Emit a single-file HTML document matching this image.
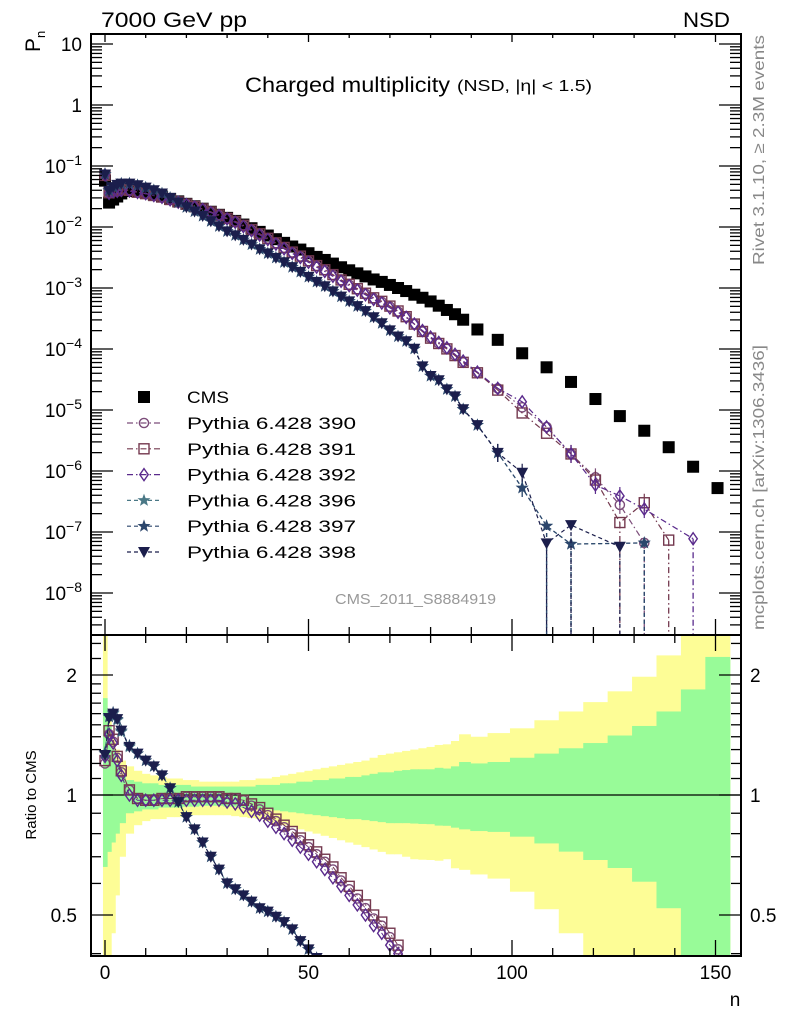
<!DOCTYPE html>
<html><head><meta charset="utf-8">
<style>
html,body{margin:0;padding:0;background:#fff;overflow:hidden;width:786px;height:1024px;}
svg{display:block;font-family:"Liberation Sans",Arial,sans-serif;}
</style></head>
<body>
<svg id="chart" width="786" height="1024" viewBox="0 0 786 1024" xmlns="http://www.w3.org/2000/svg">
<defs>
<clipPath id="clipMain"><rect x="91" y="34" width="650" height="601"/></clipPath>
<clipPath id="clipRatio"><rect x="91" y="635" width="650" height="321"/></clipPath>
</defs>
<g id="bands" clip-path="url(#clipRatio)"></g>
<g id="ratioMarks" clip-path="url(#clipRatio)"></g>
<g id="mainMarks" clip-path="url(#clipMain)"></g>
<g id="axes"></g>
<g id="legend"></g>
<text x="101" y="27" font-size="21" textLength="146" lengthAdjust="spacingAndGlyphs" fill="#000">7000 GeV pp</text>
<text x="683" y="27" font-size="21" textLength="47" lengthAdjust="spacingAndGlyphs" fill="#000">NSD</text>
<text x="245" y="92" font-size="21" textLength="205" lengthAdjust="spacingAndGlyphs" fill="#000">Charged multiplicity</text>
<text x="457" y="91" font-size="16" textLength="135" lengthAdjust="spacingAndGlyphs" fill="#000">(NSD, |η| &lt; 1.5)</text>
<text transform="translate(40,52) rotate(-90)" font-size="21" fill="#000">P<tspan font-size="13" dy="5">n</tspan></text>
<text transform="translate(36,795) rotate(-90)" font-size="15" text-anchor="middle" fill="#000">Ratio to CMS</text>
<text x="735" y="1006" font-size="19" text-anchor="middle" fill="#000">n</text>
<text transform="translate(764,265) rotate(-90)" font-size="16" textLength="230" lengthAdjust="spacingAndGlyphs" fill="#888">Rivet 3.1.10, ≥ 2.3M events</text>
<text transform="translate(764,630) rotate(-90)" font-size="16" textLength="285" lengthAdjust="spacingAndGlyphs" fill="#888">mcplots.cern.ch [arXiv:1306.3436]</text>
<text x="335" y="604" font-size="15" fill="#999" textLength="161" lengthAdjust="spacingAndGlyphs">CMS_2011_S8884919</text>
</svg>
<script>
// ---- data ----
const nGrid = [0,1,2,3,4,6,8,10,12,14,16,18,20,22,24,26,28,30,32,34,36,38,40,42,44,46,48,50,52,54,56,58,60,62,64,66,68,70,72,74,76,78,80,82,84,86,88,91.5,96.5,102.5,108.5,114.5,120.5,126.5,132.5,138.5,144.5,150.5];
const cmsLog10P = [-1.24,-1.60,-1.55,-1.50,-1.45,-1.41,-1.42,-1.44,-1.47,-1.50,-1.54,-1.58,-1.62,-1.66,-1.70,-1.75,-1.80,-1.85,-1.90,-1.96,-2.02,-2.08,-2.14,-2.20,-2.26,-2.32,-2.37,-2.43,-2.49,-2.54,-2.60,-2.66,-2.71,-2.76,-2.81,-2.86,-2.90,-2.95,-3.00,-3.05,-3.11,-3.16,-3.22,-3.29,-3.36,-3.43,-3.52,-3.68,-3.85,-4.07,-4.30,-4.54,-4.82,-5.10,-5.34,-5.61,-5.93,-6.28];
const ratio390 = [1.20,1.42,1.36,1.24,1.14,1.03,0.98,0.97,0.97,0.98,0.98,0.98,0.99,0.99,0.99,0.99,0.99,0.98,0.98,0.97,0.94,0.92,0.89,0.86,0.83,0.80,0.77,0.74,0.71,0.68,0.65,0.61,0.58,0.55,0.52,0.49,0.47,0.44,0.41,0.38,0.33,0.28,0.25,0.24,0.23,0.21,0.20,0.195,0.16,0.13,0.105,0.066,0.052,0.035,0.0145,null,null,null];
const ratio391 = [1.22,1.45,1.38,1.25,1.15,1.03,0.98,0.97,0.97,0.98,0.98,0.98,0.99,0.99,0.99,0.99,0.99,0.98,0.98,0.97,0.95,0.93,0.90,0.87,0.84,0.81,0.78,0.75,0.72,0.69,0.66,0.62,0.59,0.56,0.53,0.50,0.48,0.45,0.42,0.38,0.33,0.28,0.25,0.24,0.23,0.21,0.20,0.195,0.15,0.105,0.083,0.066,0.047,0.018,0.066,0.030,null,null];
const ratio392 = [1.25,1.42,1.35,1.22,1.12,1.00,0.97,0.97,0.97,0.97,0.97,0.97,0.97,0.97,0.97,0.97,0.97,0.96,0.95,0.93,0.91,0.89,0.86,0.83,0.80,0.77,0.74,0.71,0.68,0.65,0.62,0.59,0.56,0.53,0.50,0.47,0.45,0.42,0.40,0.37,0.33,0.29,0.26,0.25,0.24,0.22,0.21,0.20,0.16,0.16,0.105,0.066,0.039,0.049,0.052,null,0.066,null];
const ratio396 = [1.28,1.58,1.60,1.54,1.44,1.32,1.27,1.22,1.18,1.12,1.04,0.96,0.88,0.82,0.76,0.70,0.65,0.60,0.58,0.56,0.54,0.52,0.51,0.495,0.48,0.46,0.43,0.41,0.39,0.37,0.35,0.33,0.31,0.29,0.27,0.24,0.21,0.18,0.16,0.15,0.13,0.075,0.06,0.06,0.05,0.045,0.034,0.027,0.014,0.0062,0.0025,0.0022,null,null,0.0145,null,null,null];
const ratio397 = [1.27,1.57,1.61,1.55,1.45,1.33,1.27,1.22,1.18,1.12,1.04,0.96,0.88,0.82,0.76,0.70,0.65,0.60,0.58,0.56,0.54,0.52,0.51,0.495,0.48,0.46,0.43,0.41,0.39,0.37,0.35,0.33,0.31,0.29,0.27,0.24,0.21,0.18,0.16,0.15,0.13,0.075,0.06,0.06,0.05,0.045,0.034,0.027,0.014,0.0062,0.0025,0.0022,null,null,0.0145,null,null,null];
const ratio398 = [1.26,1.56,1.60,1.55,1.45,1.32,1.27,1.22,1.18,1.12,1.04,0.96,0.88,0.82,0.76,0.70,0.65,0.60,0.58,0.56,0.54,0.52,0.51,0.495,0.48,0.46,0.43,0.41,0.39,0.37,0.35,0.33,0.31,0.29,0.27,0.24,0.21,0.18,0.16,0.15,0.13,0.075,0.06,0.06,0.05,0.045,0.034,0.027,0.014,0.011,0.0013,0.0045,null,0.0072,null,null,null,null];
const bandYellowUp = [3.0,1.60,1.40,1.30,1.22,1.18,1.15,1.13,1.12,1.11,1.10,1.10,1.09,1.09,1.08,1.08,1.08,1.08,1.08,1.09,1.09,1.10,1.10,1.11,1.12,1.13,1.14,1.15,1.16,1.17,1.18,1.19,1.20,1.21,1.22,1.24,1.26,1.27,1.28,1.29,1.30,1.31,1.32,1.335,1.34,1.366,1.42,1.40,1.43,1.47,1.54,1.62,1.71,1.82,1.98,2.24,3.0,3.0];
const bandGreenUp = [1.75,1.50,1.30,1.20,1.12,1.09,1.08,1.07,1.07,1.06,1.06,1.06,1.06,1.05,1.05,1.05,1.05,1.05,1.05,1.05,1.05,1.06,1.06,1.06,1.07,1.07,1.08,1.08,1.09,1.09,1.10,1.10,1.11,1.11,1.12,1.13,1.14,1.14,1.15,1.155,1.16,1.16,1.16,1.17,1.165,1.18,1.21,1.20,1.21,1.24,1.27,1.31,1.35,1.41,1.49,1.62,1.84,2.22];
const bandGreenLow = [0.66,0.72,0.76,0.80,0.85,0.90,0.91,0.92,0.92,0.93,0.93,0.93,0.935,0.935,0.94,0.94,0.94,0.935,0.935,0.93,0.93,0.925,0.92,0.915,0.91,0.905,0.90,0.895,0.89,0.885,0.88,0.875,0.87,0.87,0.865,0.86,0.855,0.85,0.85,0.85,0.848,0.846,0.845,0.838,0.837,0.828,0.82,0.812,0.808,0.786,0.756,0.721,0.687,0.656,0.606,0.52,0.3,0.3];
const bandYellowLow = [0.30,0.30,0.45,0.56,0.70,0.80,0.84,0.86,0.87,0.87,0.88,0.88,0.885,0.89,0.89,0.89,0.89,0.89,0.885,0.88,0.875,0.87,0.86,0.85,0.84,0.83,0.82,0.81,0.80,0.79,0.78,0.77,0.76,0.75,0.74,0.73,0.72,0.71,0.71,0.70,0.69,0.688,0.687,0.684,0.69,0.655,0.649,0.632,0.617,0.572,0.517,0.45,0.3,0.3,0.3,0.3,0.3,0.3];
const xTickLabels = [0,50,100,150];
const ratioTickLabels = [0.5,1,2];

// ---- scales ----
const X = n => 105 + 4.07*n;
const Y = lg => 44 + (1-lg)*61;
const R = r => 795 - 120*Math.log2(r);
const NS = 'http://www.w3.org/2000/svg';
function mk(tag, attrs, parent){ const e=document.createElementNS(NS,tag); for(const k in attrs) e.setAttribute(k,attrs[k]); parent.appendChild(e); return e; }
const axes=document.getElementById('axes'), bands=document.getElementById('bands'),
      mainG=document.getElementById('mainMarks'), ratioG=document.getElementById('ratioMarks'), legG=document.getElementById('legend');

// ---- bands ----
function edges(i){ const lo = i===0 ? -0.5 : (nGrid[i-1]+nGrid[i])/2; const hi = i===nGrid.length-1 ? 153.5 : (nGrid[i]+nGrid[i+1])/2; return [lo,hi]; }
for(let i=0;i<nGrid.length;i++){
  const [a,b]=edges(i);
  const y1=R(bandYellowUp[i]), y2=R(bandYellowLow[i]);
  const ry=mk('rect',{x:X(a),y:y1,width:X(b)-X(a)+0.6,height:y2-y1,fill:'#fdfd96'},bands);
  
  
}
for(let i=0;i<nGrid.length;i++){
  const [a,b]=edges(i);
  const y1=R(bandGreenUp[i]), y2=R(bandGreenLow[i]);
  const rg=mk('rect',{x:X(a),y:y1,width:X(b)-X(a)+0.6,height:y2-y1,fill:'#98fb98'},bands);
  
  
}
const oneLine=mk('line',{x1:91,x2:741,y1:R(1),y2:R(1),stroke:'#000','stroke-width':1.2},bands);



// ---- markers ----
function marker(type, x, y, color, parent, s){
  s = s||1; let e;
  if(type==='circle') e=mk('circle',{cx:x,cy:y,r:4.6*s,fill:'#fff','fill-opacity':0,stroke:color,'stroke-width':1.4},parent);
  else if(type==='square') e=mk('rect',{x:x-5*s,y:y-5*s,width:10*s,height:10*s,fill:'none',stroke:color,'stroke-width':1.4},parent);
  else if(type==='diamond') e=mk('polygon',{points:`${x},${y-6*s} ${x+4.2*s},${y} ${x},${y+6*s} ${x-4.2*s},${y}`,fill:'none',stroke:color,'stroke-width':1.4},parent);
  else if(type==='star'){ let p=[]; for(let k=0;k<10;k++){ const rr=(k%2?2.8:6.8)*s, a=-Math.PI/2+k*Math.PI/5; p.push((x+rr*Math.cos(a)).toFixed(1)+','+(y+rr*Math.sin(a)).toFixed(1)); } e=mk('polygon',{points:p.join(' '),fill:color},parent); }
  else if(type==='tri') e=mk('polygon',{points:`${x-6*s},${y-5*s} ${x+6*s},${y-5*s} ${x},${y+6*s}`,fill:color},parent);
  else if(type==='cms') e=mk('rect',{x:x-6*s,y:y-6*s,width:12*s,height:12*s,fill:'#000'},parent);
  return e;
}

// CMS points (main)
for(let i=0;i<nGrid.length;i++){
  const m=marker('cms',X(nGrid[i]),Y(cmsLog10P[i]),'#000',mainG);
  
  
}

const series = [
  {name:'390',label:'Pythia 6.428 390',ratio:ratio390,type:'circle',color:'#7c4d7a',dash:'6,3,1.5,3'},
  {name:'391',label:'Pythia 6.428 391',ratio:ratio391,type:'square',color:'#74394f',dash:'6,3,1.5,3'},
  {name:'392',label:'Pythia 6.428 392',ratio:ratio392,type:'diamond',color:'#5a2a8c',dash:'6,3,1.5,3'},
  {name:'396',label:'Pythia 6.428 396',ratio:ratio396,type:'star',color:'#4a7886',dash:'4,3'},
  {name:'397',label:'Pythia 6.428 397',ratio:ratio397,type:'star',color:'#2c466c',dash:'4,3'},
  {name:'398',label:'Pythia 6.428 398',ratio:ratio398,type:'tri',color:'#1b1e4c',dash:'4,3'}
];

series.forEach(s=>{
  const gM=mk('g',{},mainG);
  
  
  const gR=mk('g',{},ratioG);
  
  
  let ptsM=[], ptsR=[];
  for(let i=0;i<nGrid.length;i++){
    const r=s.ratio[i]; if(r==null) continue;
    const lg=cmsLog10P[i]+Math.log10(r);
    ptsM.push([X(nGrid[i]),Y(lg),lg]);
    ptsR.push([X(nGrid[i]),R(r)]);
  }
  const pl=mk('polyline',{points:ptsM.map(p=>p[0].toFixed(1)+','+p[1].toFixed(1)).join(' '),fill:'none',stroke:s.color,'stroke-width':1.2,'stroke-dasharray':s.dash},gM);
  
  
  ptsM.forEach(p=>{
    if(p[2]<-6.8){ const el=mk('line',{x1:p[0],x2:p[0],y1:p[1],y2:640,stroke:s.color,'stroke-width':1.3,'stroke-dasharray':s.dash},gM);
        }
    else if(p[2]<-5.5){ const el=mk('line',{x1:p[0],x2:p[0],y1:p[1]-9,y2:p[1]+9,stroke:s.color,'stroke-width':1.2},gM);
        }
    const m=marker(s.type,p[0],p[1],s.color,gM);
    
    
  });
  const pr=mk('polyline',{points:ptsR.map(p=>p[0].toFixed(1)+','+p[1].toFixed(1)).join(' '),fill:'none',stroke:s.color,'stroke-width':1,'stroke-dasharray':s.dash},gR);
  
  
  ptsR.forEach(p=>{
    const m=marker(s.type,p[0],p[1],s.color,gR);
    
    
  });
});

// ---- axes ----
function ln(x1,y1,x2,y2,w){ return mk('line',{x1,y1,x2,y2,stroke:'#000','stroke-width':w||1.5},axes); }
const f1=mk('rect',{x:91,y:34,width:650,height:601,fill:'none',stroke:'#000','stroke-width':2},axes);


const f2=mk('rect',{x:91,y:635,width:650,height:321,fill:'none',stroke:'#000','stroke-width':2},axes);


for(let d=-9; d<=1; d++){
  for(let m=1;m<=9;m++){
    const lg=d+Math.log10(m), y=Y(lg);
    if(y<34||y>635) continue;
    const L = m===1?22:11;
    ln(91,y,91+L,y,1.3); ln(741,y,741-L,y,1.3);
  }
}
for(let d=-8; d<=1; d++){
  const t=mk('text',{x:82,y:Y(d)+7,'font-size':19,'text-anchor':'end',fill:'#000'},axes);
  
  
  if(d===1) t.textContent='10';
  else if(d===0) t.textContent='1';
  else { t.textContent='10'; const sp=document.createElementNS(NS,'tspan'); sp.setAttribute('font-size','14'); sp.setAttribute('dy','-8'); sp.textContent='−'+(-d); t.appendChild(sp); }
}
for(let n=0;n<=150;n+=10){
  const x=X(n), L=(n%50===0)?16:8;
  ln(x,635,x,635-L,1.3); ln(x,34,x,34+L*0.5,1.3);
  ln(x,635,x,635+L,1.3); ln(x,956,x,956-L,1.3);
}
xTickLabels.forEach(v=>{
  const t=mk('text',{x:X(v),y:979,'font-size':19,'text-anchor':'middle',fill:'#000'},axes);
  t.textContent=v;
  
  
});
const minorR=[0.4,0.6,0.7,0.8,0.9,1.1,1.2,1.3,1.4,1.5,1.6,1.7,1.8,1.9,2.2,2.4];
minorR.forEach(r=>{ const y=R(r); if(y<636||y>955) return; ln(91,y,101,y,1.3); ln(741,y,731,y,1.3); });
ratioTickLabels.forEach(r=>{
  const y=R(r); ln(91,y,113,y,1.3); ln(741,y,719,y,1.3);
  const t=mk('text',{x:77,y:y+7,'font-size':19,'text-anchor':'end',fill:'#000'},axes);
  t.textContent=r;
  
  
  const t2=mk('text',{x:750,y:y+7,'font-size':19,'text-anchor':'start',fill:'#000'},axes);
  t2.textContent=r;
  
  
});

// ---- legend ----
const leg0=mk('g',{},legG);


marker('cms',144,397,'#000',leg0);
const lt0=mk('text',{x:187,y:403,'font-size':17,fill:'#000',textLength:42,lengthAdjust:'spacingAndGlyphs'},leg0); lt0.textContent='CMS';
series.forEach((s,k)=>{
  const y=423+k*25.8;
  const g=mk('g',{},legG);
  
  
  mk('line',{x1:127,x2:161,y1:y,y2:y,stroke:s.color,'stroke-width':1.2,'stroke-dasharray':s.dash},g);
  marker(s.type,144,y,s.color,g);
  const t=mk('text',{x:187,y:y+6,'font-size':17,fill:'#000',textLength:169,lengthAdjust:'spacingAndGlyphs'},g); t.textContent=s.label;
});
</script>
</body></html>
